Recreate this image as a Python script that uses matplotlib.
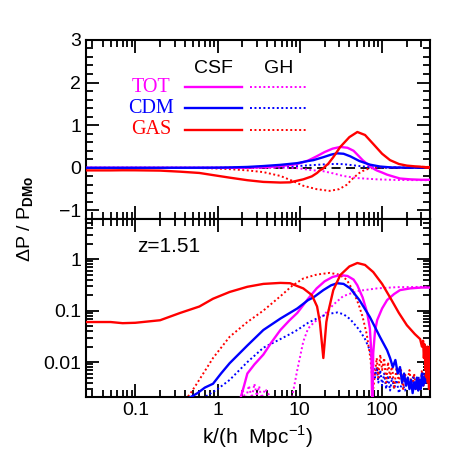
import numpy as np
import matplotlib
matplotlib.use("Agg")
import matplotlib.pyplot as plt
from matplotlib.ticker import FixedLocator, NullFormatter, LogLocator, FuncFormatter, MultipleLocator

plt.rcParams['font.family'] = ['Liberation Sans', 'DejaVu Sans']
plt.rcParams['mathtext.fontset'] = 'custom'
plt.rcParams['mathtext.rm'] = 'Liberation Sans'
plt.rcParams['mathtext.bf'] = 'Liberation Sans:bold'

# ---- data: Delta P / P_DMo (signed) ----
k_tot_csf = [0.025, 0.5, 1.5, 1.9, 2.1, 2.3, 2.8, 3.6, 4.5, 5.8, 7.5, 9.3, 12.6, 16, 20, 25, 31,
             38, 45, 50, 58, 66, 71, 74, 76, 78, 82, 87, 100, 115, 140, 165, 220, 300, 383]
tot_csf = [0.001, 0.001, 0.0015, 0.002, 0.0035, 0.006, 0.009, 0.014, 0.024, 0.042, 0.065, 0.09,
           0.17, 0.27, 0.37, 0.45, 0.49, 0.47, 0.40, 0.31, 0.18, 0.09, 0.045, 0.015, 0.001,
           -0.015, -0.04, -0.065, -0.11, -0.16, -0.21, -0.25, -0.27, -0.28, -0.28]

k_cdm_csf = [0.025, 0.2, 0.4, 0.57, 0.7, 0.88, 1.1, 1.4, 2.3, 3.6, 5.8, 9.3, 12.6, 14.6, 19.3, 24,
             28.5, 34, 41, 53, 71, 94, 115, 125, 135, 145, 155, 165, 175, 185, 195, 205, 215, 225,
             235, 245, 255, 265, 275, 285, 295, 305, 315, 325, 335, 345, 355, 365, 375, 383]
cdm_csf = [0.0005, 0.001, 0.0018, 0.0025, 0.0032, 0.0038, 0.006, 0.0095, 0.021, 0.042, 0.07, 0.11,
           0.16, 0.18, 0.25, 0.31, 0.34, 0.33, 0.27, 0.16, 0.075, 0.031, 0.017, 0.012, 0.008,
           0.011, 0.006, 0.008, 0.004, 0.006, 0.0035, 0.005, 0.003, 0.0045, 0.0025, 0.004,
           0.003, 0.005, 0.0028, 0.0045, 0.003, 0.006, 0.0035, 0.005, 0.004, 0.007, 0.005,
           0.009, 0.006, 0.01]

k_gas_csf = [0.025, 0.05, 0.07, 0.1, 0.2, 0.35, 0.6, 0.88, 1.4, 2.3, 3.6, 5.8, 7.6, 11, 14, 16.2,
             17.5, 19.3, 21, 22, 25.5, 31, 40, 50, 62, 78, 100, 125, 160, 200, 250, 290, 305,
             315, 322, 330, 336, 342, 348, 354, 360, 366, 372, 378, 383]
gas_csf = [-0.06, -0.06, -0.057, -0.058, -0.065, -0.09, -0.12, -0.17, -0.23, -0.29, -0.33, -0.345,
           -0.34, -0.27, -0.2, -0.12, -0.06, -0.012, 0.06, 0.09, 0.25, 0.49, 0.72, 0.84, 0.77,
           0.56, 0.33, 0.18, 0.09, 0.052, 0.035, 0.028, 0.02, 0.026, 0.012, 0.022, 0.007, 0.018,
           0.005, 0.02, 0.004, 0.015, 0.003, 0.012, 0.02]

k_tot_gh = [0.025, 1.8, 2.0, 2.2, 2.4, 2.6, 2.8, 3.0, 3.2, 3.4, 3.8, 4.3, 5.0, 6.0, 7.0, 8.0, 9.3,
            11, 12.6, 15, 19.3, 25.5, 33.5, 50, 87, 150, 383]
tot_gh = [-0.001, -0.001, -0.003, -0.0018, -0.0035, -0.002, -0.0038, -0.0022, -0.0034, -0.002,
          -0.003, -0.0022, -0.0012, -0.001, -0.0015, -0.002, -0.007, -0.025, -0.045, -0.06, -0.08,
          -0.13, -0.19, -0.24, -0.27, -0.285, -0.29]

k_cdm_gh = [0.025, 0.5, 1.0, 1.4, 2.3, 3.6, 5.8, 7.6, 9.3, 12.6, 16, 19.3, 24, 28.5, 34, 41, 53,
            62, 71, 78, 82, 86, 90, 95, 100, 106, 112, 118, 125, 132, 140, 150, 160, 175, 190,
            205, 220, 240, 260, 280, 300, 320, 340, 360, 383]
cdm_gh = [0.0005, 0.0015, 0.003, 0.0045, 0.01, 0.019, 0.028, 0.035, 0.042, 0.058, 0.07, 0.08,
          0.088, 0.092, 0.085, 0.068, 0.042, 0.028, 0.017, 0.009, 0.005, 0.008, 0.004, 0.007,
          0.0035, 0.006, 0.003, 0.0055, 0.0028, 0.005, 0.003, 0.0045, 0.0025, 0.004, 0.0028,
          0.0045, 0.003, 0.0055, 0.003, 0.005, 0.0035, 0.006, 0.004, 0.007, 0.008]

k_gas_gh = [0.025, 0.3, 0.47, 0.57, 0.88, 1.4, 2.3, 3.6, 5.8, 8, 11, 16, 23, 30, 37, 44, 52, 58,
            65, 72, 78, 82, 86, 90, 95, 100, 106, 112, 118, 125, 132, 140, 150, 160, 170, 180,
            190, 200, 215, 230, 245, 260, 275, 290, 305, 320, 335, 350, 365, 383]
gas_gh = [-0.0005, -0.001, -0.0025, -0.004, -0.012, -0.031, -0.06, -0.1, -0.19, -0.3, -0.42,
          -0.5, -0.54, -0.5, -0.4, -0.25, -0.13, -0.075, -0.035, -0.012, -0.003, 0.006, 0.012,
          0.005, 0.014, 0.007, 0.012, 0.004, 0.01, 0.005, 0.009, 0.003, 0.008, 0.004, 0.007,
          0.003, 0.006, 0.0035, 0.007, 0.003, 0.006, 0.0028, 0.005, 0.003, 0.007, 0.0035,
          0.006, 0.004, 0.008, 0.012]

labels = ['TOT', 'CDM', 'GAS']
colors = ['#ff00ff', '#0000ff', '#ff0000']
csf_series = [(k_tot_csf, tot_csf), (k_cdm_csf, cdm_csf), (k_gas_csf, gas_csf)]
gh_series = [(k_tot_gh, tot_gh), (k_cdm_gh, cdm_gh), (k_gas_gh, gas_gh)]
redshift = 'z=1.51'

dotted = (0, (1, 1.3))

fig = plt.figure(figsize=(4.69, 4.69), dpi=100)
ax1 = fig.add_axes([0.183, 0.533, 0.734, 0.382])
ax2 = fig.add_axes([0.183, 0.1535, 0.734, 0.3795])

for ax in (ax1, ax2):
    ax.set_xscale('log')
    ax.set_xlim(0.025, 383)
    ax.tick_params(which='both', direction='in', top=True, right=True, width=1.3, labelsize=14)
    ax.tick_params(which='major', length=9.5)
    ax.tick_params(which='minor', length=4.8)
    for s in ax.spines.values():
        s.set_linewidth(1.5)

# top panel: linear ratio
ax1.axhline(0, color='black', ls=(0, (5, 3)), lw=1.3, zorder=1)
for (k, v), c in zip(gh_series, colors):
    ax1.plot(k, v, color=c, ls=dotted, lw=1.4, zorder=2)
for (k, v), c in zip(csf_series, colors):
    ax1.plot(k, v, color=c, lw=1.7, zorder=3)
ax1.set_ylim(-1.2, 3)
ax1.yaxis.set_major_locator(FixedLocator([-1, 0, 1, 2, 3]))
ax1.yaxis.set_minor_locator(MultipleLocator(0.2))
ax1.yaxis.set_major_formatter(FuncFormatter(lambda v, p: '\u22121' if v < 0 else '%d' % v))
ax1.xaxis.set_major_formatter(NullFormatter())
ax1.xaxis.set_minor_formatter(NullFormatter())

# legend block
ax1.text(0.37, 0.84, 'CSF', transform=ax1.transAxes, fontsize=14, ha='center', va='center')
ax1.text(0.56, 0.84, 'GH', transform=ax1.transAxes, fontsize=14, ha='center', va='center')
for i, (lab, c) in enumerate(zip(labels, colors)):
    yy = 0.735 - i * 0.118
    ax1.text(0.19, yy, lab, transform=ax1.transAxes, color=c, fontsize=14.5,
             family=['Liberation Serif', 'DejaVu Serif'], ha='center', va='center')
    ax1.plot([0.288, 0.454], [yy, yy], transform=ax1.transAxes, color=c, lw=1.7)
    ax1.plot([0.477, 0.645], [yy, yy], transform=ax1.transAxes, color=c, ls=dotted, lw=1.4)

# bottom panel: |ratio| on log scale
for (k, v), c in zip(gh_series, colors):
    ax2.plot(k, np.abs(v), color=c, ls=dotted, lw=1.4, zorder=2)
for (k, v), c in zip(csf_series, colors):
    ax2.plot(k, np.abs(v), color=c, lw=1.7, zorder=3)
ax2.set_yscale('log')
ax2.set_ylim(0.0021, 6)
ax2.yaxis.set_major_locator(FixedLocator([0.01, 0.1, 1]))
ax2.yaxis.set_minor_locator(LogLocator(base=10, subs=np.arange(2, 10)))
ax2.yaxis.set_major_formatter(FuncFormatter(lambda v, p: '%g' % v))
ax2.yaxis.set_minor_formatter(NullFormatter())
ax2.xaxis.set_major_locator(FixedLocator([0.1, 1, 10, 100]))
ax2.xaxis.set_major_formatter(FuncFormatter(lambda v, p: '%g' % v))
ax2.xaxis.set_minor_formatter(NullFormatter())
ax2.text(0.148, 0.843, redshift, transform=ax2.transAxes, fontsize=15, va='center', ha='left')
ax2.set_xlabel('k/(h  Mpc$^{-1}$)', fontsize=15, labelpad=3)

fig.text(0.055, 0.533, r'$\Delta$P / P$_{\mathbf{DMo}}$', rotation=90, fontsize=14,
         ha='center', va='center')

fig.savefig('out.png', dpi=100)
